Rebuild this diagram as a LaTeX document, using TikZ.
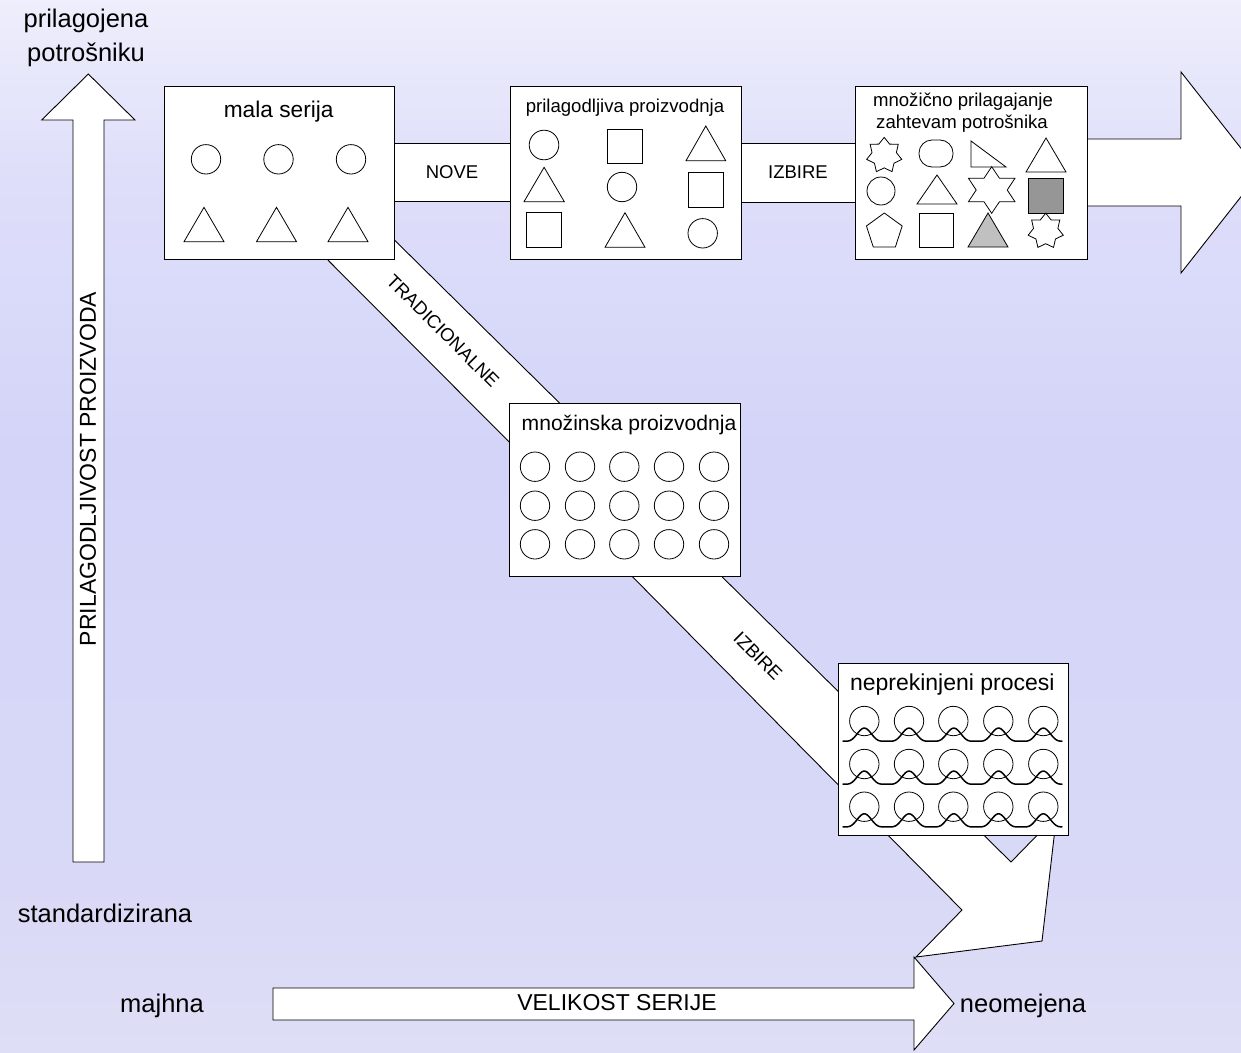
\documentclass[tikz,border=0pt]{standalone}
\usepackage{fontspec}
\setmainfont{Liberation Sans}
\usetikzlibrary{shapes.geometric}
\definecolor{bgA}{RGB}{222,222,246}
\definecolor{bgB}{RGB}{216,216,247}
\definecolor{bgC}{RGB}{212,212,249}
\definecolor{bgD}{RGB}{222,222,250}
\definecolor{bgE}{RGB}{238,238,252}
\definecolor{grayA}{RGB}{150,150,150}
\definecolor{grayB}{RGB}{192,192,192}
\pgfdeclareverticalshading{bgshade}{100bp}{color(0bp)=(bgA); color(25bp)=(bgA); color(34.6bp)=(bgB); color(53.6bp)=(bgC); color(66.4bp)=(bgD); color(75bp)=(bgE); color(100bp)=(bgE)}
\newcommand\fs[2]{\fontsize{#1}{#2}\selectfont}
% cx cy n R r xscale last
\newcommand\polystar[7]{%
  \draw[shp] ({#1},{#2-#4}) \foreach \k in {1,...,#7}{ -- ({#1+#6*(#5+(#4-#5)*(1-mod(\k,2)))*cos(90+\k*180/#3)},{#2-(#5+(#4-#5)*(1-mod(\k,2)))*sin(90+\k*180/#3)})} -- cycle;}
\begin{document}
\begin{tikzpicture}[x=1pt,y=-1pt,
  body/.style={draw=black, fill=white, line width=0.9pt, line join=miter},
  boxst/.style={draw=black, fill=white, line width=0.9pt, inner sep=0pt, outer sep=0pt},
  shp/.style={draw=black, fill=white, line width=0.8pt},
  wavy/.style={draw=black, line width=1.5pt, line cap=round},
  lbl/.style={inner sep=0pt, outer sep=0pt, text=black}]

\useasboundingbox (0,0) rectangle (1241,1052);
\clip (0,0) rectangle (1241,1052);
\shade[shading=bgshade] (0,0) rectangle (1241,1052);

% big arrows
\draw[body] (73,862) -- (73,120) -- (41.7,120) -- (88.3,74) -- (135,120) -- (104,120) -- (104,862) -- cycle;
\draw[body] (273,988) -- (914,988) -- (914,957) -- (954,1003.5) -- (914,1050) -- (914,1020) -- (273,1020) -- cycle;
\draw[body] (1060,139) -- (1181,139) -- (1181,72) -- (1260,172.5) -- (1181,273) -- (1181,206) -- (1060,206) -- cycle;

% bands
\draw[body] (380,143) rectangle (525,201);
\draw[body] (725,143) rectangle (870,202);
\draw[body] (360,206) -- (600,443) -- (550,483) -- (300,232) -- cycle;
\draw[body] (613,557) -- (962,910) -- (916,957) -- (1042,941) -- (1056,820) -- (1052,820) -- (1011,862) -- (702,557) -- cycle;

% boxes
\node[boxst, minimum width=230, minimum height=173] (b1) at (279,172.5) {};
\node[boxst, minimum width=231.5, minimum height=173] (b2) at (625.8,172.5) {};
\node[boxst, minimum width=231.5, minimum height=173] (b3) at (971.3,172.5) {};
\node[boxst, minimum width=231.2, minimum height=173.4] (bm) at (625.1,490) {};
\node[boxst, minimum width=230, minimum height=172.4] (bn) at (953.3,749.5) {};

% outer labels
\node[lbl, font=\fs{25.5}{30}, anchor=base] (ylab1) at (86,27.7) {prilagojena};
\node[lbl, font=\fs{25.5}{30}, anchor=base] (ylab2) at (86,61.5) {potrošniku};
\node[lbl, font=\fs{25.5}{30}, anchor=base] (ylab3) at (105,922) {standardizirana};
\node[lbl, font=\fs{25.5}{30}, anchor=base] (xlab1) at (162,1012) {majhna};
\node[lbl, font=\fs{25.5}{30}, anchor=base] (xlab2) at (1023,1012) {neomejena};
\node[lbl, font=\fs{23}{27}, rotate=90] (yaxis) at (88,469) {PRILAGODLJIVOST PROIZVODA};
\node[lbl, font=\fs{23}{27}] (xaxis) at (617,1003) {VELIKOST SERIJE};
\node[lbl, font=\fs{18.5}{22}] (nove) at (452,172) {NOVE};
\node[lbl, font=\fs{18.5}{22}] (izb1) at (798,172) {IZBIRE};
\node[lbl, font=\fs{18.5}{22}, rotate=-45] (trad) at (443,331) {TRADICIONALNE};
\node[lbl, font=\fs{18.5}{22}, rotate=-45] (izb2) at (758,656) {IZBIRE};

% titles
\node[lbl, font=\fs{22.7}{27}, anchor=base] (t1) at (278.7,117) {mala serija};
\node[lbl, font=\fs{18.6}{22}, anchor=base] (t2) at (625,112.3) {prilagodljiva proizvodnja};
\node[lbl, font=\fs{18.6}{22}, anchor=base] (t3a) at (963,106.7) {množično prilagajanje};
\node[lbl, font=\fs{18.6}{22}, anchor=base] (t3b) at (962,128.3) {zahtevam potrošnika};
\node[lbl, font=\fs{21.1}{25}, anchor=base] (tm) at (629,430) {množinska proizvodnja};
\node[lbl, font=\fs{23}{27}, anchor=base] (tn) at (952.3,690.7) {neprekinjeni procesi};

% box 1 shapes
\foreach \cx in {206,278.5,351} \draw[shp] (\cx,159.3) circle[radius=14.7];
\foreach \cx in {204,276.5,348} \draw[shp] (\cx-20,241.7) -- (\cx+20,241.7) -- (\cx,207.3) -- cycle;

% box 2 shapes
\draw[shp] (544,145) circle[radius=14.8];
\draw[shp] (607.3,129.3) rectangle (642.3,163.3);
\draw[shp] (686,160.7) -- (725.7,160.7) -- (705.8,126) -- cycle;
\draw[shp] (524,201.7) -- (564.3,201.7) -- (544.1,167.3) -- cycle;
\draw[shp] (622,187) circle[radius=14.7];
\draw[shp] (688.3,172.7) rectangle (723.3,207.3);
\draw[shp] (526.7,212.7) rectangle (561.7,247.3);
\draw[shp] (605,247.3) -- (645,247.3) -- (625,212.7) -- cycle;
\draw[shp] (702.7,233.3) circle[radius=14.7];

% box 3 shapes
\polystar{884.2}{155.4}{7}{18}{12.5}{1}{13}
\draw[shp, rounded corners=13] (919,140) rectangle (953,167);
\draw[shp] (971,141) -- (971,167) -- (1006,167) -- cycle;
\draw[shp] (1026,172) -- (1066,172) -- (1046,138) -- cycle;
\draw[shp] (881,191) circle[radius=14];
\draw[shp] (917,204) -- (957,204) -- (937,175) -- cycle;
\polystar{991.7}{190}{6}{23.3}{13.5}{1.15}{11}
\draw[shp, fill=grayA] (1028,178) rectangle (1063,213);
\polystar{884.3}{231.8}{2.5}{18.8}{18.8}{1}{4}
\draw[shp] (919,213) rectangle (953,247);
\draw[shp, fill=grayB] (968,247) -- (1008,247) -- (988,213) -- cycle;
\polystar{1045.7}{231.2}{7}{18}{12.5}{1}{13}

% mass production circles
\foreach \cx in {535,580,624.3,669,714} \foreach \cy in {466.7,505.7,544.3} \draw[shp] (\cx,\cy) circle[radius=14.7];

% continuous process
\foreach \cx in {864.3,909,953.3,998.3,1043.3} \foreach \cy in {721,764,806.7} \draw[shp] (\cx,\cy) circle[radius=14.7];
\foreach \cy in {721,764,806.7} \draw[wavy] plot[domain=843:1062, samples=120, smooth] (\x, {\cy+15.5-6.5*(cos((\x-864.3)*8.0447)+0.3*cos(2*(\x-864.3)*8.0447))});
\end{tikzpicture}
\end{document}
